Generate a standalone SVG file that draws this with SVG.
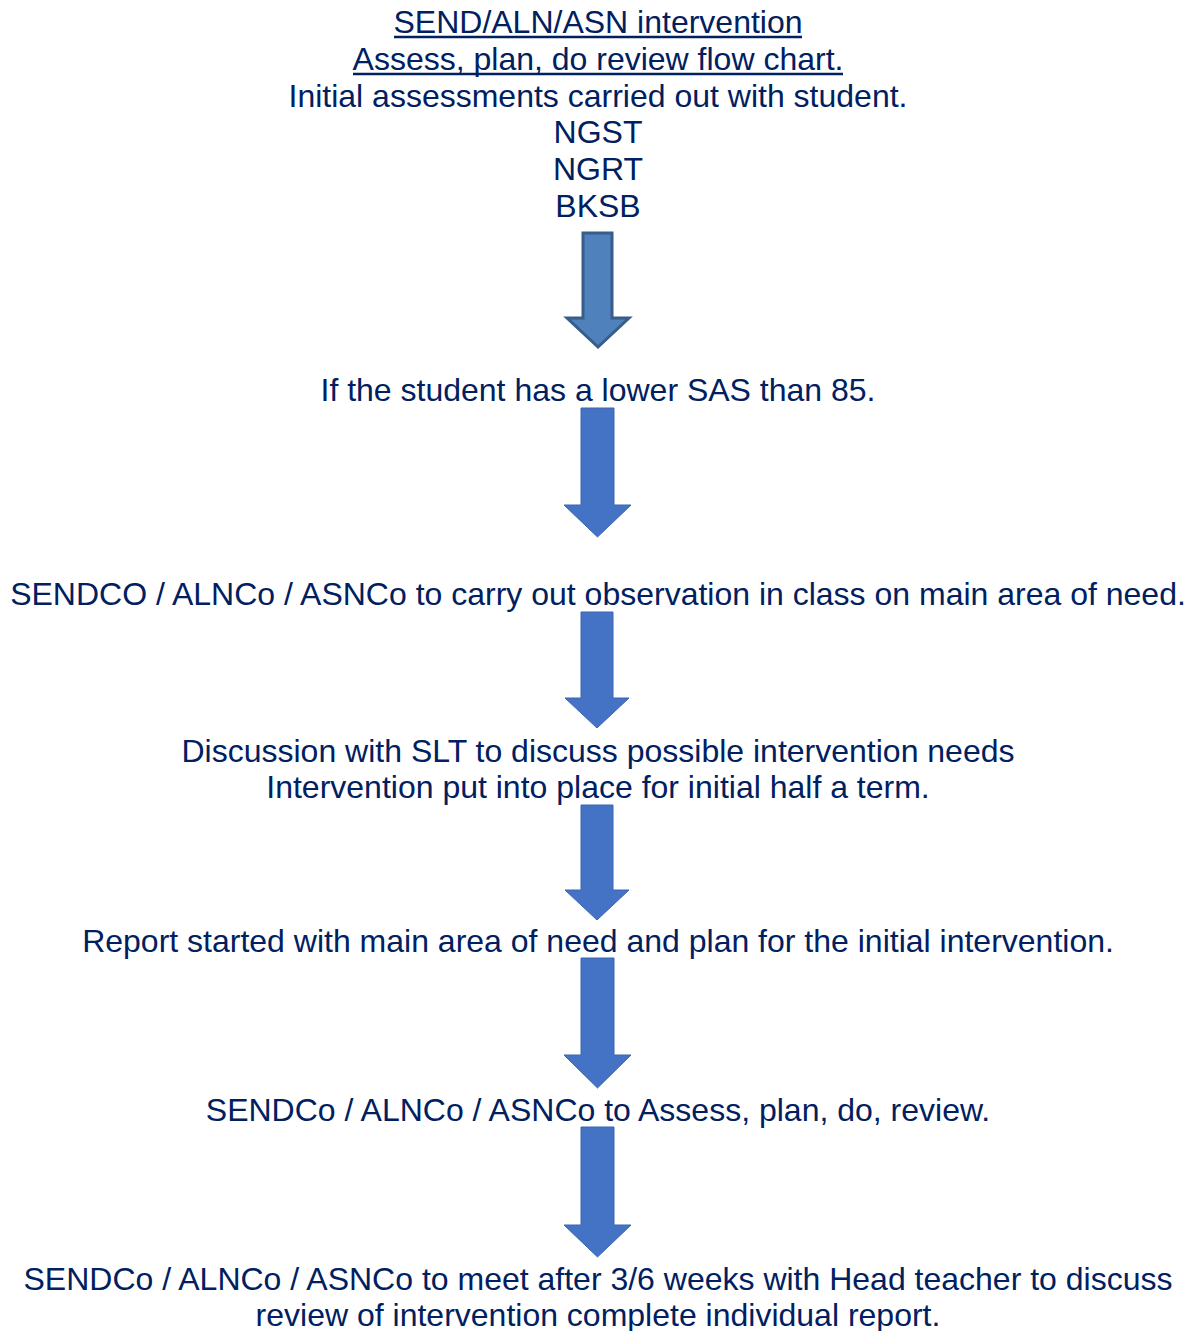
<svg xmlns="http://www.w3.org/2000/svg" width="1195" height="1331" viewBox="0 0 1195 1331">
<style>
text{font-family:"Liberation Sans",Arial,sans-serif;font-size:32px;fill:#002060;text-anchor:middle}
.ul{stroke:#002060;stroke-width:2.4}
.a1{fill:#4F81BD;stroke:#385D8A;stroke-width:3}
.a{fill:#4472C4;stroke:#3A64B0;stroke-width:1}
</style>
<rect width="1195" height="1331" fill="#fff"/>
<g id="n1">
<text x="598" y="33">SEND/ALN/ASN intervention</text>
<line class="ul" x1="394" y1="37" x2="802" y2="37"/>
<text x="598" y="70">Assess, plan, do review flow chart.</text>
<line class="ul" x1="353" y1="74" x2="843" y2="74"/>
<text x="598" y="107">Initial assessments carried out with student.</text>
<text x="598" y="143">NGST</text>
<text x="598" y="180">NGRT</text>
<text x="598" y="217">BKSB</text>
</g>
<g id="n2"><text x="598" y="401">If the student has a lower SAS than 85.</text></g>
<g id="n3"><text x="598" y="605">SENDCO / ALNCo / ASNCo to carry out observation in class on main area of need.</text></g>
<g id="n4"><text x="598" y="762">Discussion with SLT to discuss possible intervention needs</text>
<text x="598" y="798">Intervention put into place for initial half a term.</text></g>
<g id="n5"><text x="598" y="952">Report started with main area of need and plan for the initial intervention.</text></g>
<g id="n6"><text x="598" y="1121">SENDCo / ALNCo / ASNCo to Assess, plan, do, review.</text></g>
<g id="n7"><text x="598" y="1290">SENDCo / ALNCo / ASNCo to meet after 3/6 weeks with Head teacher to discuss</text>
<text x="598" y="1326">review of intervention complete individual report.</text></g>
<g id="connectors">
<path class="a1" d="M583,233 H612 V318 H629 L598,347 L567,318 H583 Z"/>
<path class="a" d="M581,408 H614 V505 H631 L597.5,537 L564,505 H581 Z"/>
<path class="a" d="M581,612 H613 V698 H629 L597,728 L565,698 H581 Z"/>
<path class="a" d="M581,805 H613 V890 H629 L597,920 L565,890 H581 Z"/>
<path class="a" d="M581,958 H614 V1055 H631 L597.5,1088 L564,1055 H581 Z"/>
<path class="a" d="M581,1127 H614 V1225 H631 L597.5,1257 L564,1225 H581 Z"/>
</g>
</svg>
